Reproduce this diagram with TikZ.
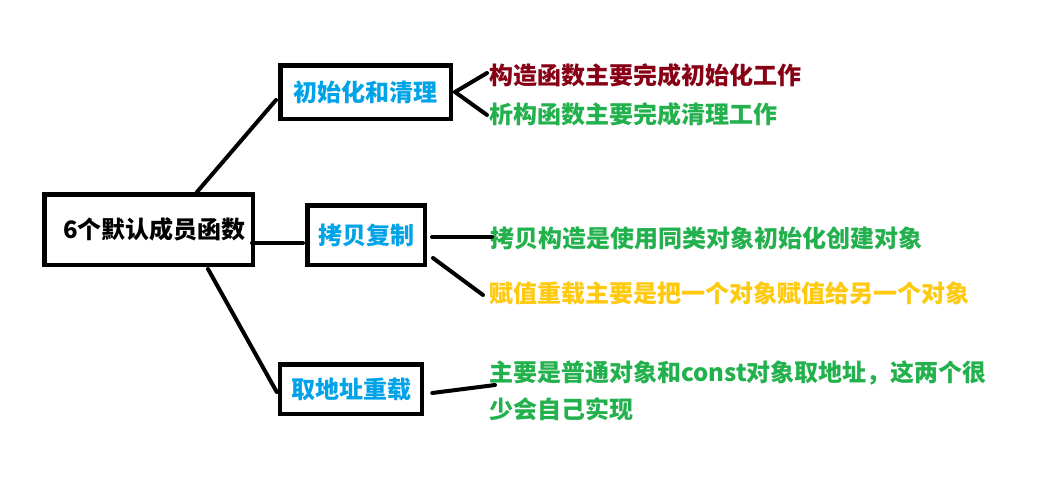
\documentclass[tikz,border=0pt]{standalone}
\usepackage{fontspec}
\newfontfamily\cjk{Noto Sans CJK SC}
\usetikzlibrary{calc}
\definecolor{pblue}{HTML}{00A2E8}
\definecolor{pred}{HTML}{880015}
\definecolor{pgreen}{HTML}{22B14C}
\definecolor{pgold}{HTML}{FFC90E}
\tikzset{
  box/.style={draw=black, line width=4.5pt, rectangle, inner sep=0pt,
    font=\cjk\bfseries\fontsize{24}{28}\selectfont},
  lbl/.style={anchor=west, inner sep=0pt, align=left,
    font=\cjk\bfseries\fontsize{24}{37}\selectfont},
  conn/.style={line width=4pt, line cap=round, black},
}
\begin{document}
\begin{tikzpicture}[x=1pt,y=-1pt]
\useasboundingbox[fill=white] (0,0) rectangle (1045,499);
% boxes
\node[box, minimum width=208.5pt, minimum height=70.5pt] (main) at (148.5,229.5) {\hspace*{12pt}6个默认成员函数};
\node[box, text=pblue, minimum width=170.5pt, minimum height=53.5pt] (b1) at (365.5,92) {初始化和清理};
\node[box, text=pblue, minimum width=117.5pt, minimum height=59.5pt] (b2) at (366,235) {拷贝复制};
\node[box, text=pblue, minimum width=142pt, minimum height=49.5pt] (b3) at (351,389) {取地址重载};
% labels
\node[lbl, text=pred] (t1) at (489,75) {构造函数主要完成初始化工作};
\node[lbl, text=pgreen] (t2) at (489,114) {析构函数主要完成清理工作};
\node[lbl, text=pgreen] (t3) at (490,238) {拷贝构造是使用同类对象初始化创建对象};
\node[lbl, text=pgold] (t4) at (489,293) {赋值重载主要是把一个对象赋值给另一个对象};
\node[lbl, text=pgreen] (t5) at (489,391) {主要是普通对象和const对象取地址，这两个很\\少会自己实现};
% connectors
\draw[conn] ($(main.north)+(48.5,0)$) -- ($(b1.west)+(-2,8)$);
\draw[conn] ($(main.east)+(-3,13.5)$) -- ($(b2.west)+(-2,8)$);
\draw[conn] ($(main.south)+(59.5,2)$) -- ($(b3.west)+(-1,3)$);
\draw[conn] ($(b1.east)+(2,0)$) -- ($(t1.west)+(-2,-2)$);
\draw[conn] ($(b1.east)+(2,0)$) -- ($(t2.west)+(-2,1)$);
\draw[conn] ($(b2.east)+(5,2)$) -- ($(t3.west)+(2,-1)$);
\draw[conn] ($(b2.south east)+(6,-9)$) -- ($(t4.west)+(-6,2)$);
\draw[conn] ($(b3.east)+(8,4)$) -- ($(t5.west)+(6,-6)$);
\end{tikzpicture}
\end{document}
